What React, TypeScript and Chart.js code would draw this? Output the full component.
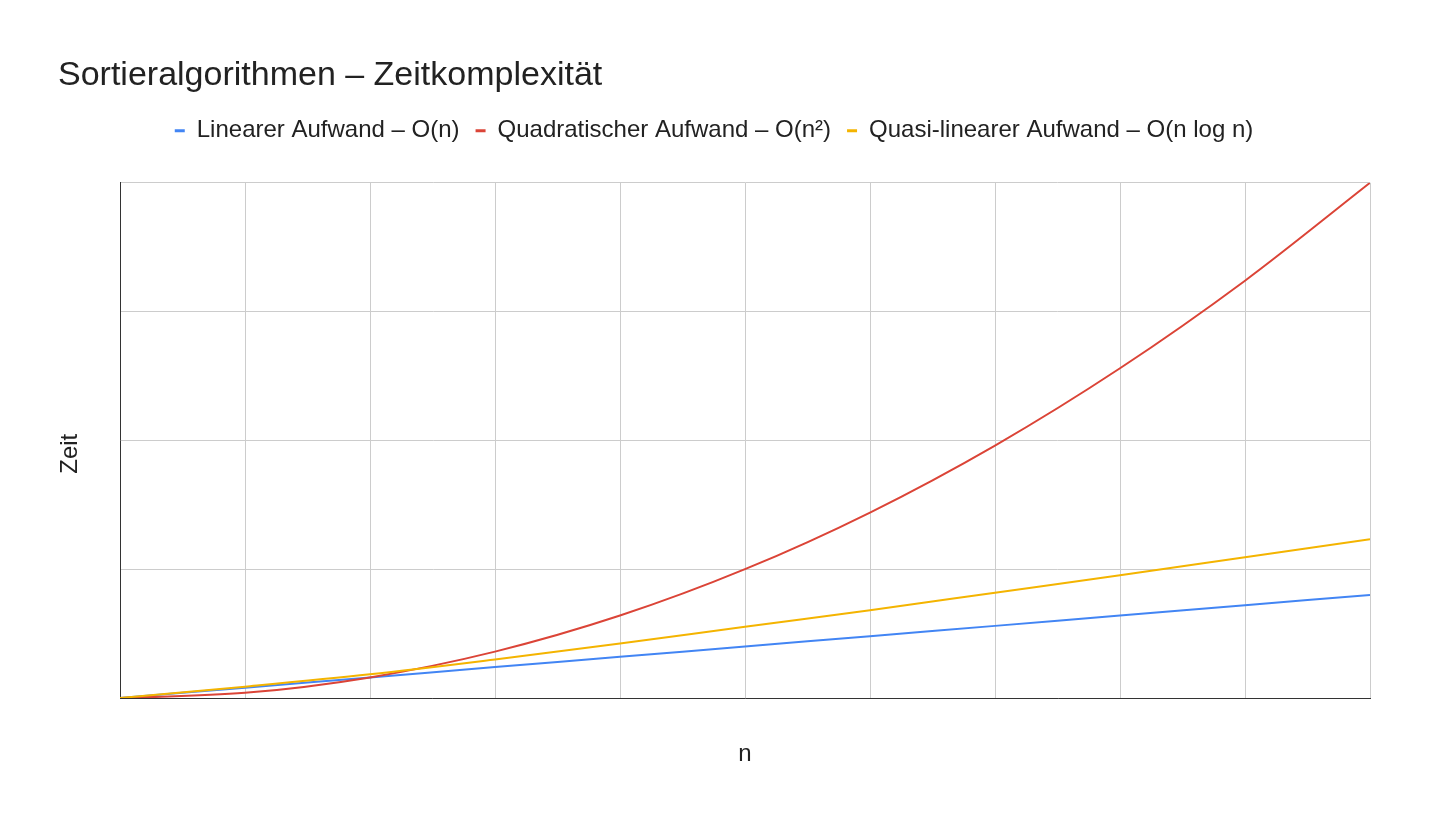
import { useEffect, useRef } from "react";
import { Chart, registerables } from "chart.js";
import type { Plugin } from "chart.js";

Chart.register(...registerables);

// n on the x axis, time values
const nValues = [0, 0.5, 1, 1.5, 2, 2.5, 3, 3.5, 4, 4.5, 5];
const linearTime = [0, 0.5, 1, 1.5, 2, 2.5, 3, 3.5, 4, 4.5, 5];
const quadraticTime = [0, 0.25, 1, 2.25, 4, 6.25, 9, 12.25, 16, 20.25, 25];
const quasiLinearTime = [0, 0.55, 1.15, 1.87, 2.64, 3.46, 4.26, 5.11, 5.96, 6.83, 7.7];

const seriesLabels = [
  "Linearer Aufwand – O(n)",
  "Quadratischer Aufwand – O(n²)",
  "Quasi-linearer Aufwand – O(n log n)",
];
const seriesColors = ["#4285f4", "#db4437", "#f4b400"];

const FONT = "'Liberation Sans', Arial, sans-serif";
const TEXT = "#222222";
const GRID = "#cccccc";
const AXIS = "#333333";

const toPoints = (values: number[]) => values.map((y, i) => ({ x: nValues[i], y }));

// chart.js puts the plot right under the legend; the reference leaves a gap
const legendGap: Plugin<"line"> = {
  id: "legendGap",
  beforeInit(chart) {
    const legend = chart.legend as any;
    if (!legend) return;
    const fit = legend.fit;
    legend.fit = function () {
      fit.call(this);
      this.height += 30;
    };
  },
};

export default function App() {
  const canvasRef = useRef<HTMLCanvasElement>(null);

  useEffect(() => {
    if (!canvasRef.current) return;

    const series = [linearTime, quadraticTime, quasiLinearTime];
    const datasets = series.map((values, i) => ({
      label: seriesLabels[i],
      data: toPoints(values),
      borderColor: seriesColors[i],
      backgroundColor: seriesColors[i],
      borderWidth: 2,
      pointRadius: 0,
      cubicInterpolationMode: "monotone" as const,
      order: series.length - 1 - i,
    }));

    const chart = new Chart(canvasRef.current, {
      type: "line",
      data: { datasets },
      plugins: [legendGap],
      options: {
        responsive: true,
        maintainAspectRatio: false,
        animation: false,
        layout: { padding: { left: 58, right: 62, top: 0, bottom: 0 } },
        plugins: {
          title: {
            display: true,
            text: "Sortieralgorithmen – Zeitkomplexität",
            align: "start",
            color: TEXT,
            font: { family: FONT, size: 34, weight: "normal", lineHeight: 1.2 },
            padding: { top: 55, bottom: 7 },
          },
          legend: {
            position: "top",
            labels: {
              color: TEXT,
              font: { family: FONT, size: 24 },
              boxWidth: 10,
              boxHeight: 3,
              padding: 16,
              sort: (a, b) => (a.datasetIndex ?? 0) - (b.datasetIndex ?? 0),
              generateLabels: (c) =>
                Chart.defaults.plugins.legend.labels
                  .generateLabels(c)
                  .map((item) => ({ ...item, lineWidth: 0 })),
            },
          },
          tooltip: { enabled: false },
        },
        scales: {
          x: {
            type: "linear",
            min: 0,
            max: 5,
            ticks: { display: false, stepSize: 0.5 },
            grid: { color: GRID, drawTicks: false },
            border: { color: AXIS, width: 1 },
            title: {
              display: true,
              text: "n",
              color: TEXT,
              font: { family: FONT, size: 24, lineHeight: 1 },
              padding: { top: 0, bottom: 54 },
            },
            afterFit: (scale) => {
              scale.height = 122;
            },
          },
          y: {
            type: "linear",
            min: 0,
            max: 25,
            ticks: { display: false, stepSize: 6.25 },
            grid: { color: GRID, drawTicks: false },
            border: { color: AXIS, width: 1 },
            title: {
              display: true,
              // trailing spaces nudge the centred label down like in the reference
              text: "Zeit    ",
              color: TEXT,
              font: { family: FONT, size: 24, lineHeight: 1 },
              padding: 0,
            },
            afterFit: (scale) => {
              scale.width = 62;
            },
          },
        },
      },
    });

    return () => {
      chart.destroy();
    };
  }, []);

  return (
    <div
      style={{
        position: "fixed",
        left: 0,
        top: 0,
        width: 1432,
        height: 820,
        background: "#ffffff",
      }}
    >
      <canvas ref={canvasRef}></canvas>
    </div>
  );
}
